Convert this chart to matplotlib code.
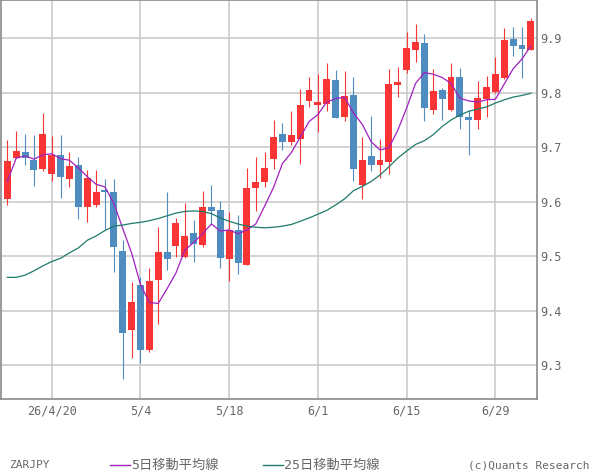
import matplotlib
matplotlib.use('Agg')
import matplotlib.pyplot as plt
from matplotlib.lines import Line2D
import pandas as pd

# ZARJPY daily candles, 2026-04-13 .. 2026-07-03 (weekdays)
dates = pd.bdate_range('2026-04-13', '2026-07-03')

opens = [9.605, 9.681, 9.691, 9.677, 9.660, 9.651, 9.686, 9.642, 9.667, 9.590,
         9.594, 9.621, 9.618, 9.509, 9.364, 9.447, 9.328, 9.456, 9.508, 9.519,
         9.498, 9.542, 9.520, 9.590, 9.585, 9.495, 9.548, 9.484, 9.625, 9.636,
         9.678, 9.724, 9.710, 9.715, 9.785, 9.777, 9.779, 9.823, 9.755, 9.796,
         9.631, 9.684, 9.667, 9.673, 9.814, 9.842, 9.879, 9.891, 9.768, 9.805,
         9.768, 9.829, 9.755, 9.750, 9.789, 9.801, 9.827, 9.899, 9.888, 9.879]
highs = [9.713, 9.730, 9.724, 9.722, 9.763, 9.721, 9.722, 9.691, 9.682, 9.658,
         9.658, 9.642, 9.642, 9.530, 9.452, 9.462, 9.478, 9.553, 9.618, 9.570,
         9.598, 9.566, 9.620, 9.631, 9.601, 9.581, 9.575, 9.662, 9.682, 9.691,
         9.750, 9.744, 9.766, 9.807, 9.829, 9.834, 9.855, 9.842, 9.840, 9.829,
         9.719, 9.757, 9.715, 9.844, 9.847, 9.912, 9.926, 9.908, 9.844, 9.809,
         9.855, 9.845, 9.768, 9.822, 9.831, 9.866, 9.919, 9.921, 9.921, 9.937]
lows = [9.594, 9.680, 9.668, 9.629, 9.656, 9.638, 9.607, 9.627, 9.568, 9.563,
        9.590, 9.550, 9.471, 9.274, 9.313, 9.304, 9.324, 9.375, 9.474, 9.498,
        9.497, 9.489, 9.517, 9.559, 9.478, 9.454, 9.467, 9.483, 9.583, 9.627,
        9.660, 9.695, 9.704, 9.669, 9.774, 9.728, 9.766, 9.753, 9.748, 9.638,
        9.605, 9.656, 9.643, 9.651, 9.792, 9.836, 9.856, 9.748, 9.761, 9.750,
        9.767, 9.733, 9.686, 9.733, 9.755, 9.800, 9.826, 9.867, 9.827, 9.878]
closes = [9.675, 9.693, 9.681, 9.658, 9.724, 9.686, 9.646, 9.665, 9.590, 9.643,
          9.618, 9.618, 9.517, 9.359, 9.416, 9.328, 9.454, 9.508, 9.495, 9.561,
          9.537, 9.522, 9.590, 9.583, 9.497, 9.548, 9.487, 9.625, 9.636, 9.662,
          9.719, 9.710, 9.722, 9.778, 9.805, 9.783, 9.825, 9.754, 9.794, 9.660,
          9.676, 9.667, 9.676, 9.816, 9.820, 9.882, 9.893, 9.772, 9.803, 9.789,
          9.829, 9.755, 9.750, 9.790, 9.811, 9.834, 9.897, 9.886, 9.880, 9.932]

ma5 = [9.637, 9.680, 9.684, 9.678, 9.686, 9.688, 9.679, 9.676, 9.662, 9.646,
       9.632, 9.627, 9.597, 9.551, 9.506, 9.448, 9.415, 9.413, 9.440, 9.469,
       9.511, 9.525, 9.541, 9.559, 9.546, 9.548, 9.541, 9.548, 9.559, 9.592,
       9.626, 9.670, 9.690, 9.718, 9.747, 9.760, 9.783, 9.789, 9.792, 9.763,
       9.742, 9.710, 9.695, 9.699, 9.731, 9.772, 9.817, 9.837, 9.834, 9.828,
       9.817, 9.790, 9.785, 9.783, 9.787, 9.788, 9.816, 9.844, 9.862, 9.886]
ma25 = [9.461, 9.461, 9.465, 9.473, 9.482, 9.490, 9.496, 9.506, 9.515, 9.529,
        9.537, 9.547, 9.555, 9.557, 9.560, 9.562, 9.565, 9.569, 9.574, 9.579,
        9.582, 9.583, 9.582, 9.578, 9.570, 9.564, 9.559, 9.555, 9.553, 9.552,
        9.553, 9.555, 9.558, 9.564, 9.570, 9.577, 9.584, 9.594, 9.605, 9.620,
        9.628, 9.637, 9.649, 9.664, 9.680, 9.693, 9.705, 9.712, 9.723, 9.738,
        9.750, 9.759, 9.766, 9.770, 9.774, 9.781, 9.787, 9.792, 9.795, 9.799]

tick_dates = ['2026-04-20', '2026-05-04', '2026-05-18', '2026-06-01', '2026-06-15', '2026-06-29']
tick_labels = ['26/4/20', '5/4', '5/18', '6/1', '6/15', '6/29']
yticks = [9.3, 9.4, 9.5, 9.6, 9.7, 9.8, 9.9]

UP = '#f83434'
DOWN = '#4f8cbf'
C5 = '#a020c0'
C25 = '#1f7a6a'
GRID = '#c8c8c8'
EDGE = '#8a8a8a'
TXT = '#666666'

plt.rcParams['font.family'] = ['DejaVu Sans Mono', 'Noto Sans CJK JP']

fig = plt.figure(figsize=(6, 4.75), dpi=100)
ax = fig.add_axes([0.5 / 600, 1 - 399 / 475, 536.5 / 600, 399 / 475])

x = list(range(len(dates)))
for i in x:
    o, h, l, c = opens[i], highs[i], lows[i], closes[i]
    col = UP if c >= o else DOWN
    ax.vlines(i, l, h, color=col, linewidth=0.8, zorder=3)
    lo, hi = min(o, c), max(o, c)
    ax.bar(i, max(hi - lo, 0.002), bottom=lo, width=0.78, color=col,
           linewidth=0, zorder=4)

ax.plot(x, ma5, color=C5, linewidth=0.9, zorder=5)
ax.plot(x, ma25, color=C25, linewidth=0.9, zorder=5)

ax.set_xlim(-0.77, 59.69)
ax.set_ylim(9.2376, 9.9703)

pos = [list(dates).index(pd.Timestamp(d)) for d in tick_dates]
ax.set_xticks(pos)
ax.set_xticklabels(tick_labels)
ax.set_yticks(yticks)
ax.set_yticklabels([f'{v:.1f}' for v in yticks])
ax.yaxis.tick_right()
ax.tick_params(axis='both', length=0, labelsize=8.5, colors=TXT)
ax.tick_params(axis='y', pad=2)
ax.tick_params(axis='x', pad=4)
ax.grid(True, color=GRID, linewidth=1.1, zorder=0)
ax.set_axisbelow(True)
for s in ax.spines.values():
    s.set_color(EDGE)
    s.set_linewidth(1.2)

# bottom legend row
ly = 1 - 465 / 475
fig.text(9 / 600, ly, 'ZARJPY', fontsize=8, color=TXT, va='center')
fig.add_artist(Line2D([110 / 600, 130 / 600], [ly, ly], color=C5, linewidth=1))
fig.text(131 / 600, ly, '5日移動平均線', fontsize=9.5, color=TXT, va='center')
fig.add_artist(Line2D([263 / 600, 283 / 600], [ly, ly], color=C25, linewidth=1))
fig.text(284 / 600, ly, '25日移動平均線', fontsize=9.5, color=TXT, va='center')
fig.text(590 / 600, ly, '(c)Quants Research', fontsize=8, color=TXT,
         va='center', ha='right')

fig.savefig('out.png', dpi=100)
